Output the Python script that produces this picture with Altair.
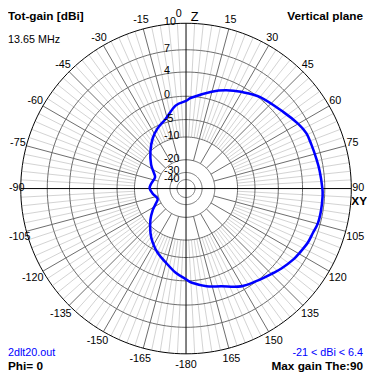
import altair as alt
import numpy as np
import pandas as pd

# ---------------- data ----------------
# elevation angle theta (deg; 0 = zenith "Z", +90 = horizon "XY") and total gain (dBi)
theta_deg = [-180, -172.8, -164.6, -156.1, -148.4, -141.3, -131.4, -122.9, -116.5,
             -109.6, -98.9, -90, -82.5, -70.4, -63.7, -55.3, -43.7, -33.5, -25.3,
             -16.2, -7.2, 0, 3.7, 14.8, 22.2, 29.6, 39.3, 51.9, 59.9, 65.4, 70.7,
             76.7, 82.5, 90, 93.6, 99.1, 104.7, 109.3, 114, 119.4, 123.4, 129.8,
             134.1, 142.2, 150.7, 160.1, 168.1, 176.4]
gain_dbi = [-0.3, -1.5, -3.2, -4.7, -6.4, -8.3, -11.4, -14.5, -17.3,
            -19.2, -17.3, -16.0, -16.5, -17.7, -16.2, -13.3, -10.0, -7.3, -5.6,
            -4.1, -1.7, -0.9, -0.2, 1.4, 2.4, 3.2, 4.2, 5.05, 5.8, 6.2, 6.25,
            6.35, 6.5, 6.7, 6.75, 6.75, 6.7, 6.45, 6.3, 5.95, 5.7, 5.15,
            4.7, 4.0, 3.35, 2.05, 1.35, 0.4]

ring_db = [10, 7, 4, 0, -5, -10, -20, -30, -40]
ring_text = ["10", "7", "4", "0", "-5", "-10", "-20", "-30", "-40"]

angle_ticks = [0, 15, 30, 45, 60, 75, 90, 105, 120, 135, 150, 165, 180,
               -165, -150, -135, -120, -105, -90, -75, -60, -45, -30, -15]
angle_text = ["0", "15", "30", "45", "60", "75", "90", "105", "120", "135", "150", "165", "-180",
              "-165", "-150", "-135", "-120", "-105", "-90", "-75", "-60", "-45", "-30", "-15"]

title_text = "Tot-gain [dBi]"
freq_text = "13.65 MHz"
plane_text = "Vertical plane"
file_text = "2dlt20.out"
phi_text = "Phi= 0"
range_text = "-21 < dBi < 6.4"
max_text = "Max gain The:90"
z_text = "Z"
xy_text = "XY"

# ---------------- geometry / style ----------------
W = H = 366
CX, CY = 181.5, 180.5          # plot-pixel position of the pattern centre
R = 168.5                      # outer ring radius (px)
TOP_DB = 10
FONT = "Liberation Sans"
BLUE = "#0000ff"
DARK = "#6a6a6a"
LIGHT = "#d2d2d2"


def radius(db):
    # ARRL-style log scale: 0.89 of radius per 2 dB
    return R * 0.89 ** ((TOP_DB - np.asarray(db, dtype=float)) / 2.0)


def polar_xy(theta, r):
    t = np.radians(np.asarray(theta, dtype=float))
    return np.asarray(r) * np.sin(t), np.asarray(r) * np.cos(t)


xs = alt.Scale(domain=[-CX, W - CX], nice=False, zero=False)
ys = alt.Scale(domain=[CY - H, CY], nice=False, zero=False)
X = alt.X("x:Q", scale=xs, axis=None)
Y = alt.Y("y:Q", scale=ys, axis=None)

# rings
ang = np.arange(0, 361, 2)
ring_rows = []
for db in ring_db:
    x, y = polar_xy(ang, radius(db))
    for k in range(len(ang)):
        ring_rows.append({"db": db, "i": k, "x": x[k], "y": y[k]})
rings = pd.DataFrame(ring_rows)

# radial lines
def radial_df(angles, r0, r1):
    x0, y0 = polar_xy(angles, np.full(len(angles), r0))
    x1, y1 = polar_xy(angles, np.full(len(angles), r1))
    return pd.DataFrame({"x": x0, "y": y0, "x2": x1, "y2": y1})

light_angles = [a for a in range(-180, 180, 3) if a % 15 != 0]
dark_angles = [a for a in range(-180, 180, 15) if a % 90 != 0]
light = radial_df(light_angles, radius(-10), R)
dark = radial_df(dark_angles, radius(-20), R)
axes_df = radial_df([0, 90], -R, R)

# pattern curve
cx, cy = polar_xy(theta_deg, radius(gain_dbi))
curve = pd.DataFrame({"i": range(len(theta_deg)), "x": cx, "y": cy})

# ring labels
_, ry = polar_xy([0] * len(ring_db), radius(ring_db))
ring_lab = pd.DataFrame({"y": ry, "label": ring_text})

# angle labels placed just outside the outer circle
t = np.radians(angle_ticks)
s, c = np.sin(t), np.cos(t)
widths = np.array([6.1 * sum(ch.isdigit() for ch in l) + 3.7 * l.count("-") for l in angle_text])
lx = R * s + (widths / 2 + 1) * s
lx = np.where(np.array(angle_ticks) == 0, lx - 7.5, lx)
lx = np.maximum(lx, -CX + 1 + widths / 2)
dy_down = np.where(c >= 0, -1 - 8 * c, 4 + 7 * np.abs(c))
ly = R * c - dy_down
ang_lab = pd.DataFrame({"x": lx, "y": ly, "label": angle_text})

layers = [
    alt.Chart(light).mark_rule(color=LIGHT, strokeWidth=1).encode(x=X, y=Y, x2="x2:Q", y2="y2:Q"),
    alt.Chart(rings[rings.db != TOP_DB]).mark_line(color=DARK, strokeWidth=1).encode(
        x=X, y=Y, detail="db:N", order="i:Q"),
    alt.Chart(dark).mark_rule(color=DARK, strokeWidth=1).encode(x=X, y=Y, x2="x2:Q", y2="y2:Q"),
    alt.Chart(axes_df).mark_rule(color="black", strokeWidth=1).encode(x=X, y=Y, x2="x2:Q", y2="y2:Q"),
    alt.Chart(rings[rings.db == TOP_DB]).mark_line(color="black", strokeWidth=1).encode(
        x=X, y=Y, order="i:Q"),
    alt.Chart(curve).mark_line(color=BLUE, strokeWidth=2.6, interpolate="cardinal-closed").encode(
        x=X, y=Y, order="i:Q"),
    alt.Chart(ring_lab).mark_text(align="left", baseline="middle", font=FONT, fontSize=11,
                                  color="black", dy=-1).encode(
        x=alt.value(CX - 22.5), y=Y, text="label:N"),
    alt.Chart(ang_lab).mark_text(align="center", baseline="middle", font=FONT, fontSize=11,
                                 color="black").encode(x=X, y=Y, text="label:N"),
]


def note(txt, px, py, align="left", size=12, bold=False, color="black", baseline="alphabetic"):
    return alt.Chart(pd.DataFrame({"t": [txt]})).mark_text(
        align=align, baseline=baseline, font=FONT, fontSize=size,
        fontWeight="bold" if bold else "normal", color=color).encode(
        x=alt.value(px), y=alt.value(py), text="t:N")


layers += [
    note(title_text, 0, 9, bold=True),
    note(freq_text, 0, 32, size=11),
    note(plane_text, 362, 9, align="right", bold=True),
    note(file_text, 0, 351, size=11, color=BLUE),
    note(phi_text, 0, 365, bold=True),
    note(range_text, 362, 351, align="right", size=11, color=BLUE),
    note(max_text, 362, 365, align="right", bold=True),
    note(z_text, 190.3, 9.5, align="center", size=13),
    note(xy_text, 358, 193.5, align="center", bold=True, baseline="middle"),
]

chart = alt.layer(*layers).properties(
    width=W, height=H, padding=0, autosize=alt.AutoSizeParams(type="none"),
    background="white",
).configure_view(stroke=None)

chart.save("out.html", embed_options={"renderer": "svg", "actions": False})
